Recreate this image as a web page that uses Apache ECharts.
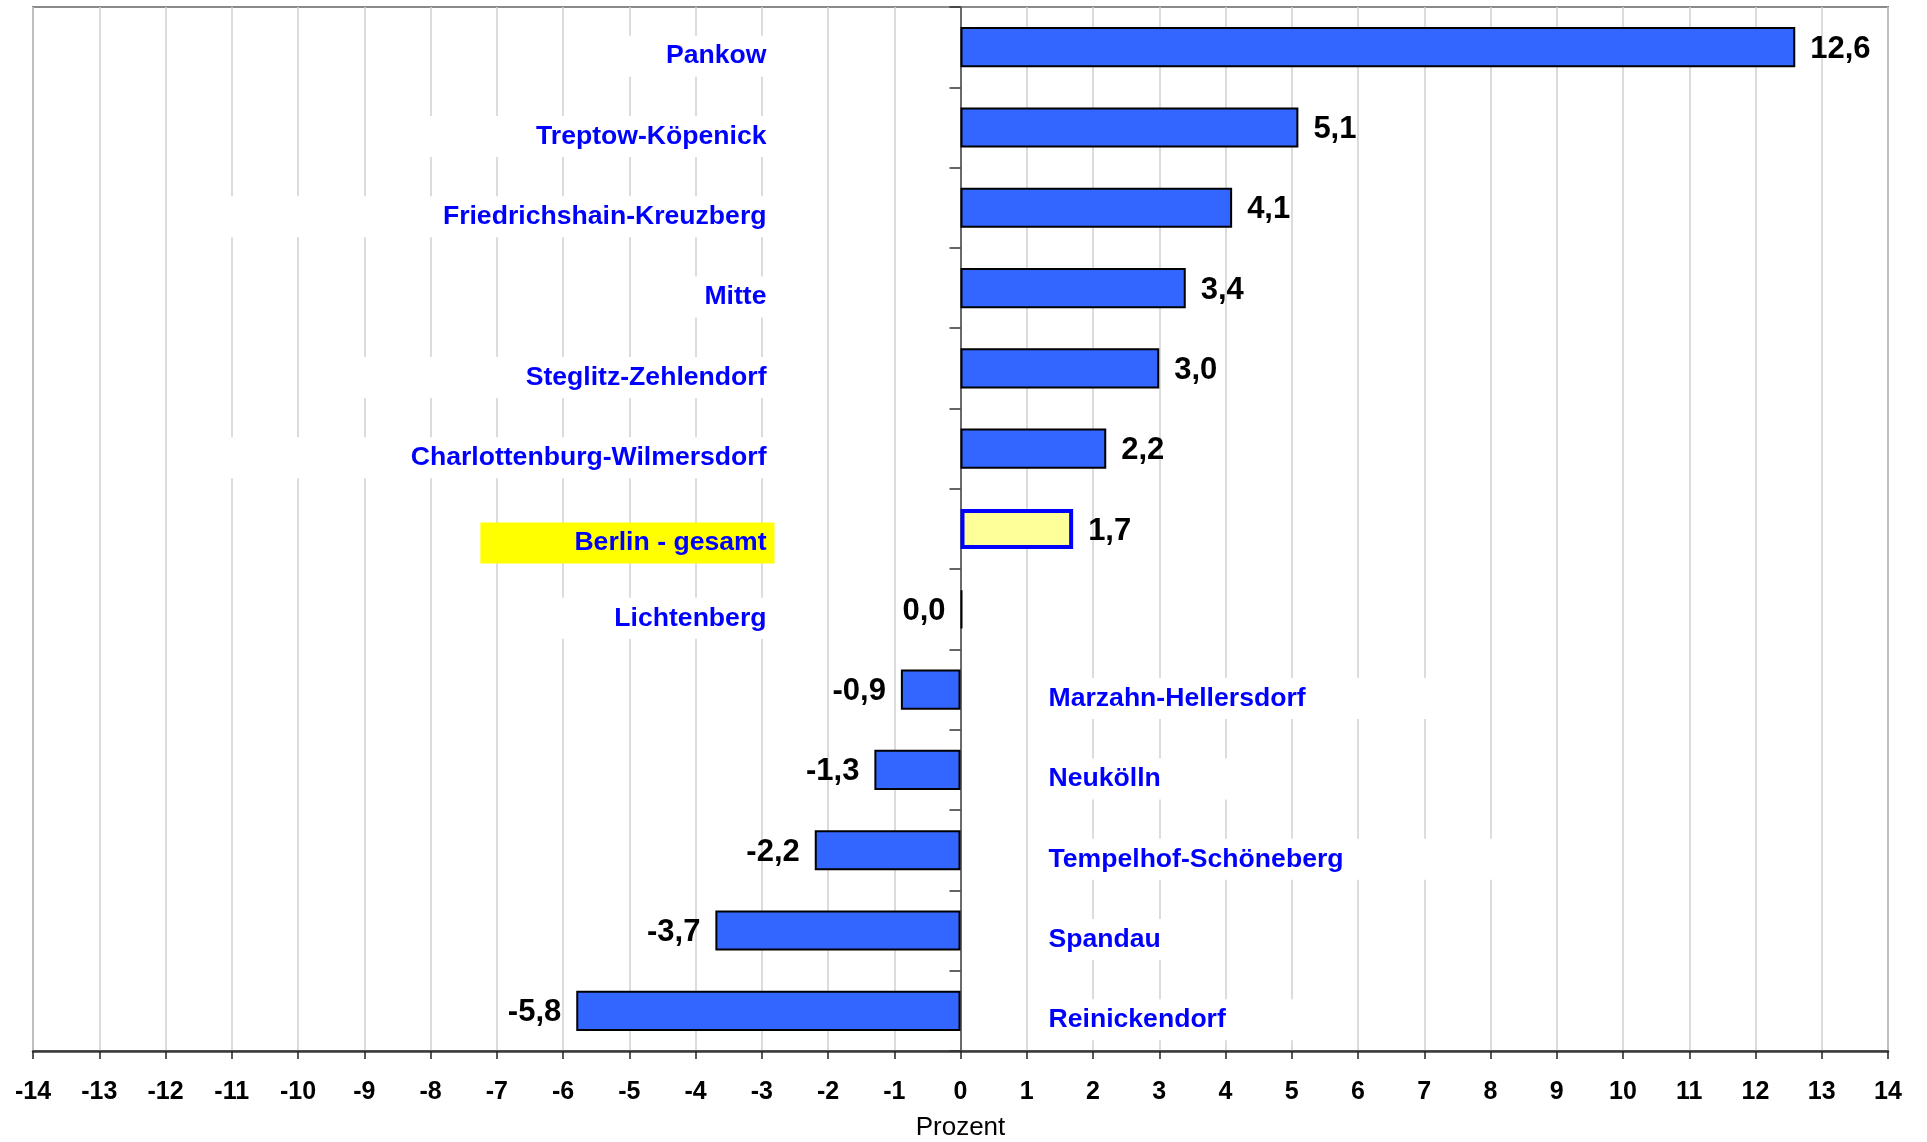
<!DOCTYPE html>
<html>
<head>
<meta charset="utf-8">
<script src="https://cdn.jsdelivr.net/npm/echarts@6/dist/echarts.min.js"></script>
<style>
  html, body { margin: 0; padding: 0; background: #fff; }
  #chart { width: 1927px; height: 1142px; }
</style>
</head>
<body>
<div id="chart"></div>
<script>
// Bezirke (von oben nach unten) und Veränderung in Prozent
const categories = [
  'Pankow', 'Treptow-Köpenick', 'Friedrichshain-Kreuzberg', 'Mitte',
  'Steglitz-Zehlendorf', 'Charlottenburg-Wilmersdorf', 'Berlin - gesamt',
  'Lichtenberg', 'Marzahn-Hellersdorf', 'Neukölln', 'Tempelhof-Schöneberg',
  'Spandau', 'Reinickendorf'
];
const values = [12.6, 5.1, 4.1, 3.4, 3.0, 2.2, 1.7, 0.0, -0.9, -1.3, -2.2, -3.7, -5.8];
// Achse: -14 ... 14, Schritt 1
const axisMin = -14;
const axisMax = 14;
const axisStep = 1;
const totalName = 'Berlin - gesamt';

const FONT = '"Liberation Sans", Arial, sans-serif';
const fmt = v => v.toFixed(1).replace('.', ',');

// Balken mit Wertbeschriftung
const barData = values.map((v, i) => {
  const isTotal = categories[i] === totalName;
  return {
    value: v,
    itemStyle: isTotal
      ? { color: '#FFFF99', borderColor: '#0000FF', borderWidth: 4 }
      : { color: '#3366FF', borderColor: '#000', borderWidth: 2 },
    label: { position: v > 0 ? 'right' : 'left' }
  };
});

// unsichtbare Balken, die nur den Bezirksnamen tragen
const nameData = values.map((v, i) => {
  const name = categories[i];
  const isTotal = name === totalName;
  const left = v >= 0;
  const far = isTotal ? 94 : Math.round(name.length * 9);
  return {
    value: v,
    label: {
      position: left ? 'left' : 'right',
      distance: left ? 186 : 82,
      offset: [0, isTotal ? 14 : 9],
      backgroundColor: isTotal ? '#FFFF00' : '#fff',
      padding: left ? [7, 8, 7, far] : [7, far, 7, 6]
    }
  };
});

const chart = echarts.init(document.getElementById('chart'));
chart.setOption({
  animation: false,
  backgroundColor: '#fff',
  textStyle: { fontFamily: FONT },
  grid: {
    left: 33, right: 39, top: 7, bottom: 91,
    show: true, borderColor: '#8a8a8a', borderWidth: 2,
    containLabel: false, outerBoundsMode: 'none'
  },
  xAxis: {
    type: 'value',
    min: axisMin, max: axisMax, interval: axisStep,
    name: 'Prozent', nameLocation: 'middle', nameGap: 64,
    nameTextStyle: { color: '#000', fontSize: 26, fontFamily: FONT },
    axisLine: { show: true, lineStyle: { color: '#3a3a3a', width: 2.5 } },
    axisTick: { show: true, length: 8, lineStyle: { color: '#222', width: 1.5 } },
    axisLabel: {
      color: '#000', fontSize: 25, fontWeight: 'bold', margin: 29,
      fontFamily: FONT, showMinLabel: true, showMaxLabel: true
    },
    splitLine: { show: true, lineStyle: { color: '#d0d0d0', width: 1.5 } }
  },
  yAxis: {
    type: 'category',
    data: categories,
    inverse: true,
    axisLine: { show: true, onZero: true, lineStyle: { color: '#444', width: 1.5 } },
    axisTick: { show: true, length: 11, lineStyle: { color: '#333', width: 1.5 } },
    axisLabel: { show: false },
    splitLine: { show: false }
  },
  series: [
    {
      type: 'bar',
      data: barData,
      barWidth: '50%',
      barGap: '-100%',
      barMinHeight: 2,
      z: 3,
      label: {
        show: true,
        distance: 15,
        offset: [0, 2],
        formatter: p => fmt(p.value),
        color: '#000', fontSize: 31, fontWeight: 'bold', fontFamily: FONT
      }
    },
    {
      type: 'bar',
      data: nameData,
      barWidth: '50%',
      barGap: '-100%',
      silent: true,
      z: 2,
      itemStyle: { color: 'transparent', borderWidth: 0 },
      emphasis: { disabled: true },
      label: {
        show: true,
        formatter: p => p.name,
        color: '#0000FF', fontSize: 26.6, fontWeight: 'bold', fontFamily: FONT
      }
    }
  ]
});
</script>
</body>
</html>
